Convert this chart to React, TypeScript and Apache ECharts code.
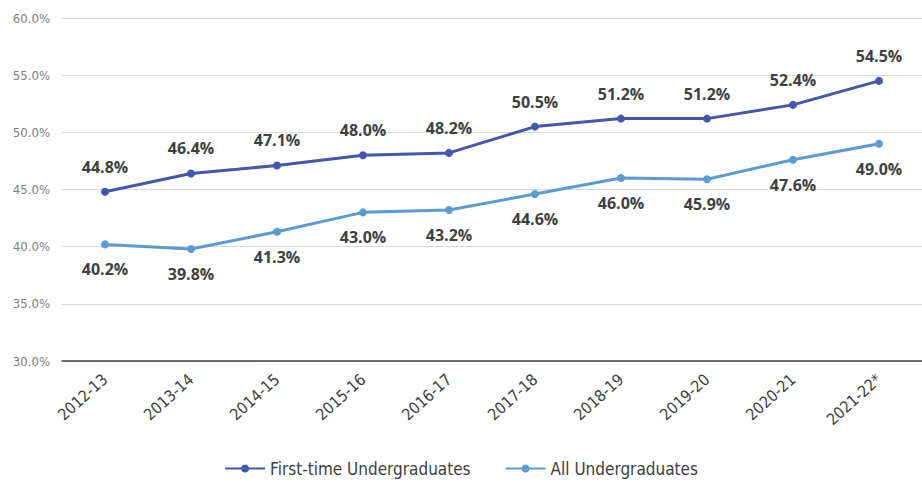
import React, { useEffect, useRef } from "react";
import * as echarts from "echarts";

const categories = ["2012-13", "2013-14", "2014-15", "2015-16", "2016-17", "2017-18", "2018-19", "2019-20", "2020-21", "2021-22*"];
const firstTime = [44.8, 46.4, 47.1, 48.0, 48.2, 50.5, 51.2, 51.2, 52.4, 54.5];
const allUndergrads = [40.2, 39.8, 41.3, 43.0, 43.2, 44.6, 46.0, 45.9, 47.6, 49.0];
const seriesNames = ["First-time Undergraduates", "All Undergraduates"];

export default function App() {
  const ref = useRef<HTMLDivElement>(null);
  useEffect(() => {
    if (!ref.current) return;
    const chart = echarts.init(ref.current, undefined, { renderer: "svg" });
    const labelStyle = {
      show: true,
      formatter: (p: any) => p.value.toFixed(1) + "%",
      color: "#404040",
      fontSize: 16,
      fontWeight: "bold" as const,
      fontFamily: "Open Sans, sans-serif",
      distance: 13,
    };
    chart.setOption({
      animation: false,
      backgroundColor: "#ffffff",
      grid: { left: 62, right: 0, top: 18, bottom: 127 },
      xAxis: {
        type: "category",
        data: categories,
        boundaryGap: true,
        axisLine: { lineStyle: { color: "#404040", width: 1.5 } },
        axisTick: { alignWithLabel: true, length: 5, lineStyle: { color: "#404040" } },
        axisLabel: {
          rotate: 42,
          color: "#404040",
          fontSize: 16,
          fontFamily: "DejaVu Sans Condensed, sans-serif",
          margin: 16,
        },
      },
      yAxis: {
        type: "value",
        min: 30,
        max: 60,
        interval: 5,
        axisLine: { show: false },
        axisTick: { show: false },
        splitLine: { lineStyle: { color: "#d9d9d9" } },
        axisLabel: {
          formatter: (v: number) => v.toFixed(1) + "%",
          color: "#808080",
          fontSize: 13,
          fontFamily: "DejaVu Sans Condensed, sans-serif",
          margin: 12,
        },
      },
      legend: {
        bottom: 6,
        left: "center",
        itemGap: 34,
        itemWidth: 40,
        itemHeight: 10,
        textStyle: { color: "#404040", fontSize: 17, fontFamily: "DejaVu Sans Condensed, sans-serif" },
        data: seriesNames,
      },
      series: [
        {
          name: seriesNames[0],
          type: "line",
          data: firstTime,
          color: "#4357ad",
          symbol: "circle",
          symbolSize: 8,
          lineStyle: { width: 3 },
          label: { ...labelStyle, position: "top" },
        },
        {
          name: seriesNames[1],
          type: "line",
          data: allUndergrads,
          color: "#5b9bd5",
          symbol: "circle",
          symbolSize: 8,
          lineStyle: { width: 3 },
          label: { ...labelStyle, position: "bottom" },
        },
      ],
    });
    return () => chart.dispose();
  }, []);
  return <div ref={ref} style={{ width: 922, height: 488, position: "absolute", left: 0, top: 0 }} />;
}
